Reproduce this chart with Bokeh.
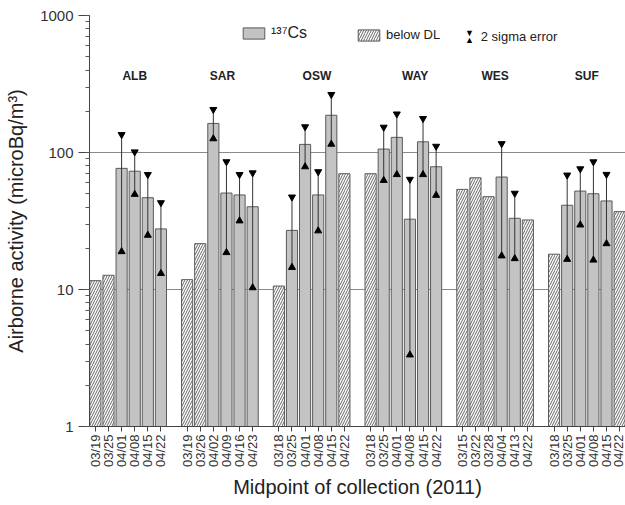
import math
from bokeh.plotting import figure
from bokeh.models import (ColumnDataSource, Range1d, FixedTicker, LogTicker,
                          NumeralTickFormatter, Legend, LegendItem, Label)
from bokeh.core.properties import value
from bokeh.embed import file_html
from bokeh.resources import INLINE

FONT = "Liberation Sans"

stations = ["ALB", "SAR", "OSW", "WAY", "WES", "SUF"]
dates = [
    ["03/19", "03/25", "04/01", "04/08", "04/15", "04/22"],
    ["03/19", "03/26", "04/02", "04/09", "04/16", "04/23"],
    ["03/18", "03/25", "04/01", "04/08", "04/15", "04/22"],
    ["03/18", "03/25", "04/01", "04/08", "04/15", "04/22"],
    ["03/15", "03/22", "03/28", "04/04", "04/13", "04/22"],
    ["03/18", "03/25", "04/01", "04/08", "04/15", "04/22"],
]
activity = [
    [11.6, 12.7, 76.6, 73.0, 46.8, 27.7],
    [11.8, 21.6, 163.0, 50.6, 49.0, 40.2],
    [10.6, 27.0, 114.6, 49.0, 187.0, 70.0],
    [70.0, 106.0, 129.0, 32.6, 119.7, 78.7],
    [53.8, 65.4, 47.6, 66.2, 33.1, 32.2],
    [18.1, 41.2, 52.3, 50.0, 44.3, 37.0],
]
below_dl = [
    [True, True, False, False, False, False],
    [True, True, False, False, False, False],
    [True, False, False, False, False, True],
    [True, False, False, False, False, False],
    [True, True, True, False, False, True],
    [True, False, False, False, False, True],
]
err_high = [
    [None, None, 135, 101, 69, 43],
    [None, None, 206, 85.6, 69, 71],
    [None, 47.3, 154, 72.4, 265, None],
    [None, 153, 191, 63.7, 177, 111],
    [None, None, None, 116, 50.4, None],
    [None, 68.4, 76, 85.5, 69.2, None],
]
err_low = [
    [None, None, 18.9, 49.5, 24.9, 13.1],
    [None, None, 126, 18.6, 31.7, 10.3],
    [None, 14.5, 78.7, 26.8, 115, None],
    [None, 62.6, 69, 3.33, 69, 48.7],
    [None, None, None, 17.6, 16.8, None],
    [None, 16.6, 29.6, 16.4, 21.6, None],
]

# layout parameters
SLOT = 7              # 6 bars + one empty slot per group
BAR_W = 0.85
label_shift = [0.5, 0.2, 0.4, 0.9, 0.0, 0.0]
label_y = 360

cs = dict(x=[], top=[])
dl = dict(x=[], top=[])
eb = dict(x=[], lo=[], hi=[])
ticks, tick_labels = [], {}
for g in range(len(stations)):
    for i in range(6):
        xi = g * SLOT + i
        ticks.append(xi)
        tick_labels[xi] = dates[g][i]
        target = dl if below_dl[g][i] else cs
        target["x"].append(xi)
        target["top"].append(activity[g][i])
        if err_high[g][i] is not None:
            eb["x"].append(xi)
            eb["lo"].append(err_low[g][i])
            eb["hi"].append(err_high[g][i])

st_src = ColumnDataSource(dict(
    x=[g * SLOT + 2.5 + label_shift[g] for g in range(len(stations))],
    y=[label_y] * len(stations),
    text=stations))

p = figure(width=625, height=505, y_axis_type="log",
           x_range=Range1d(-0.45, 40.45), y_range=Range1d(1, 1000),
           output_backend="svg", toolbar_location=None,
           min_border_left=89, min_border_right=0, min_border_top=15,
           min_border_bottom=79)
p.outline_line_color = None
p.background_fill_color = "white"

r_cs = p.vbar(x="x", top="top", bottom=1, width=BAR_W, source=ColumnDataSource(cs),
              fill_color="#c3c3c3", line_color="#5a5a5a", line_width=1)
r_dl = p.vbar(x="x", top="top", bottom=1, width=BAR_W, source=ColumnDataSource(dl),
              fill_color="white", line_color="#5a5a5a", line_width=1,
              hatch_pattern="/", hatch_color="#555555", hatch_scale=5, hatch_weight=0.9)

eb_src = ColumnDataSource(eb)
p.segment(x0="x", y0="lo", x1="x", y1="hi", source=eb_src, line_color="#333333", line_width=1)
p.scatter(x="x", y="hi", source=eb_src, marker="inverted_triangle", size=7,
          fill_color="black", line_color="black")
p.scatter(x="x", y="lo", source=eb_src, marker="triangle", size=7,
          fill_color="black", line_color="black")

p.text(x="x", y="y", text="text", source=st_src, text_font=value(FONT),
       text_font_style="bold", text_font_size="12px", text_align="center",
       text_baseline="middle", text_color="#222222")

# grid
p.xgrid.visible = False
p.ygrid.ticker = FixedTicker(ticks=[10, 100, 1000])
p.ygrid.grid_line_color = "#8a8a8a"
p.ygrid.grid_line_width = 1
p.ygrid.minor_grid_line_color = None

# x axis
xa = p.xaxis[0]
xa.ticker = FixedTicker(ticks=ticks)
xa.major_label_overrides = tick_labels
xa.major_label_orientation = math.pi / 2
xa.major_label_text_font = FONT
xa.major_label_text_font_size = "13px"
xa.major_label_text_color = "#333333"
xa.major_label_standoff = 3
xa.major_tick_out = 5
xa.major_tick_in = 0
xa.minor_tick_line_color = None
xa.axis_line_color = "#444444"
xa.major_tick_line_color = "#444444"
xa.axis_label = "Midpoint of collection (2011)"
xa.axis_label_text_font = FONT
xa.axis_label_text_font_style = "normal"
xa.axis_label_text_font_size = "20px"
xa.axis_label_text_color = "#222222"
xa.axis_label_standoff = 6

# y axis
ya = p.yaxis[0]
ya.ticker = LogTicker(num_minor_ticks=10)
ya.formatter = NumeralTickFormatter(format="0")
ya.major_label_text_font = FONT
ya.major_label_text_font_size = "15px"
ya.major_label_text_color = "#333333"
ya.major_label_standoff = 5
ya.major_tick_out = 11
ya.major_tick_in = 0
ya.minor_tick_out = 4
ya.minor_tick_in = 0
ya.axis_line_color = "#444444"
ya.major_tick_line_color = "#444444"
ya.minor_tick_line_color = "#555555"
ya.axis_label = "Airborne activity (microBq/m³)"
ya.axis_label_text_font = FONT
ya.axis_label_text_font_style = "normal"
ya.axis_label_text_font_size = "20px"
ya.axis_label_text_color = "#222222"
ya.axis_label_standoff = 10

# legend
def make_legend(label, rends, loc, fsize):
    lg = Legend(items=[LegendItem(label=label, renderers=rends)], location=loc,
                glyph_width=27, glyph_height=14, label_standoff=4, padding=0,
                margin=0, border_line_color=None, background_fill_alpha=0,
                label_text_font=FONT, label_text_font_size=fsize,
                label_text_color="#222222", label_height=14)
    p.add_layout(lg)

make_legend("¹³⁷Cs", [r_cs], (151, 384), "16px")
make_legend("below DL", [r_dl], (266, 384), "13px")

p.add_layout(Label(x=28.55, y=741, text="▼", text_font_size="9px", text_align="center",
                   text_baseline="middle", text_color="black"))
p.add_layout(Label(x=28.55, y=664, text="▲", text_font_size="9px", text_align="center",
                   text_baseline="middle", text_color="black"))
p.add_layout(Label(x=29.4, y=704, text="2 sigma error", text_font=FONT,
                   text_font_size="13px", text_align="left", text_baseline="middle",
                   text_color="#222222"))

open("out.html", "w").write(file_html(p, INLINE))
